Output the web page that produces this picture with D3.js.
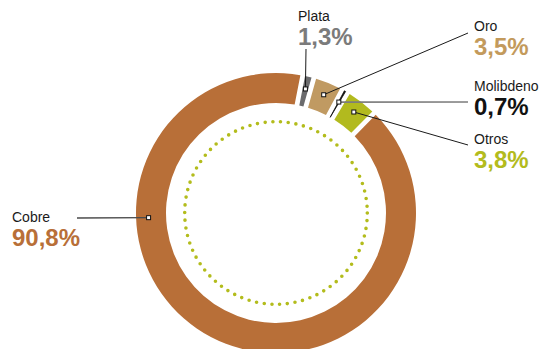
<!DOCTYPE html>
<html>
<head>
<meta charset="utf-8">
<script src="https://cdn.jsdelivr.net/npm/d3@7"></script>
<style>
  html, body { margin: 0; padding: 0; background: #fff; }
  svg { display: block; }
  text { font-family: "Liberation Sans", Arial, Helvetica, sans-serif; }
</style>
</head>
<body>
<svg id="chart" width="543" height="349"></svg>
<script>
// Production mix by metal (share of total, %)
const categories = ["Plata", "Oro", "Molibdeno", "Otros", "Cobre"];
const shares = [1.3, 3.5, 0.7, 3.8, 90.8];
const shareLabels = ["1,3%", "3,5%", "0,7%", "3,8%", "90,8%"];

const sliceColors = ["#6b6b6d", "#c09a62", "#111111", "#b2ba1e", "#b86f38"];
const valueColors = ["#7b7b7b", "#c39a5c", "#111111", "#b3bb1d", "#b86f38"];

const cx = 276, cy = 213;
const rOuter = 140, rInner = 110, rDots = 91.3, rPointer = 127.5;

const svg = d3.select("#chart");
const g = svg.append("g").attr("transform", `translate(${cx},${cy})`);

const deg = Math.PI / 180;

// slices run clockwise from just right of twelve o'clock
const pie = d3.pie()
  .sort(null)
  .value(d => d)
  .startAngle(11 * deg)
  .endAngle(11 * deg + 2 * Math.PI);

const arcs = pie(shares);

const arc = d3.arc()
  .innerRadius(rInner)
  .outerRadius(rOuter)
  .padRadius(125)
  .padAngle(0.038);

g.selectAll("path.slice")
  .data(arcs)
  .join("path")
  .attr("class", "slice")
  .attr("d", arc)
  .attr("fill", (d, i) => sliceColors[i])
  .attr("stroke", (d, i) => categories[i] === "Molibdeno" ? "#111" : "none")
  .attr("stroke-width", 0.8);

// dotted inner ring
const circ = 2 * Math.PI * rDots;
const nDots = 74;
g.append("circle")
  .attr("r", rDots)
  .attr("fill", "none")
  .attr("stroke", "#b3bc1c")
  .attr("stroke-width", 3.6)
  .attr("stroke-linecap", "round")
  .attr("stroke-dasharray", `0 ${circ / nDots}`);

// callouts: anchor angle on the ring, leader end point and label position
const polar = (a, r) => [cx + r * Math.sin(a), cy - r * Math.cos(a)];
const midAngle = d => (d.startAngle + d.endAngle) / 2;

const callouts = [
  { anchor: midAngle(arcs[0]), end: [306, 49], label: [298, 21], line: "#1a1a1a", lw: 1 },
  { anchor: midAngle(arcs[1]), end: [468, 33], label: [474, 31], line: "#1a1a1a", lw: 1 },
  { anchor: midAngle(arcs[2]), end: [468, 102], label: [474, 91], line: "#7d7d7d", lw: 1.7 },
  { anchor: midAngle(arcs[3]), end: [468, 145], label: [474, 144], line: "#1a1a1a", lw: 1 },
  { anchor: 267.9 * deg, end: [77, 218], label: [12, 222], line: "#4a4a4a", lw: 1.3 }
];

const layer = svg.append("g");

callouts.forEach((c, i) => {
  const p = polar(c.anchor, rPointer);
  layer.append("line")
    .attr("x1", p[0]).attr("y1", p[1])
    .attr("x2", c.end[0]).attr("y2", c.end[1])
    .attr("stroke", c.line)
    .attr("stroke-width", c.lw);
  layer.append("rect")
    .attr("x", p[0] - 2).attr("y", p[1] - 2)
    .attr("width", 4).attr("height", 4)
    .attr("fill", "#fff")
    .attr("stroke", "#111")
    .attr("stroke-width", 1);

  layer.append("text")
    .attr("x", c.label[0]).attr("y", c.label[1])
    .attr("font-size", 14)
    .attr("fill", "#1a1a1a")
    .text(categories[i]);
  layer.append("text")
    .attr("x", c.label[0]).attr("y", c.label[1] + 24)
    .attr("font-size", 24)
    .attr("font-weight", "bold")
    .attr("fill", valueColors[i])
    .text(shareLabels[i]);
});
</script>
</body>
</html>
